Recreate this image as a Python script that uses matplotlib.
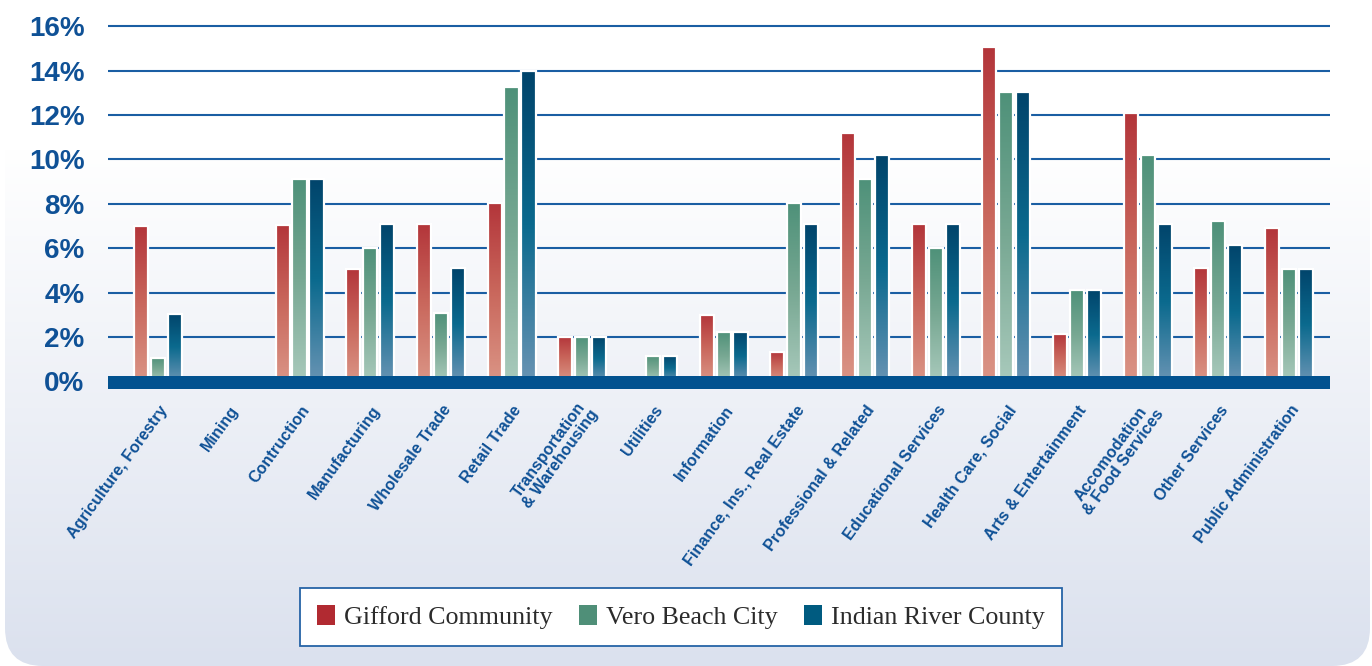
import numpy as np
import matplotlib
matplotlib.use("Agg")
import matplotlib.pyplot as plt
from matplotlib.colors import LinearSegmentedColormap, to_rgb
from matplotlib.patches import FancyBboxPatch, Patch
from matplotlib.transforms import ScaledTranslation

# data (percent of employment by industry)
categories = [
    "Agriculture, Forestry", "Mining", "Contruction", "Manufacturing",
    "Wholesale Trade", "Retail Trade", "Transportation\n& Warehousing",
    "Utilities", "Information", "Finance, Ins., Real Estate",
    "Professional & Related", "Educational Services", "Health Care, Social",
    "Arts & Entertainment", "Accomodation\n& Food Services", "Other Services",
    "Public Administration",
]
gifford = [7.0, 0, 7.05, 5.05, 7.1, 8.05, 2.0, 0, 3.0, 1.35, 11.2, 7.1, 15.05, 2.15, 12.1, 5.1, 6.9]
vero = [1.05, 0, 9.1, 6.0, 3.1, 13.25, 2.0, 1.15, 2.25, 8.05, 9.1, 6.0, 13.05, 4.1, 10.2, 7.25, 5.05]
county = [3.05, 0, 9.1, 7.1, 5.1, 14.0, 2.0, 1.15, 2.25, 7.1, 10.2, 7.1, 13.05, 4.1, 7.1, 6.15, 5.05]
series_names = ["Gifford Community", "Vero Beach City", "Indian River County"]
yticks = [0, 2, 4, 6, 8, 10, 12, 14, 16]

W, H = 1372, 666
fig = plt.figure(figsize=(W / 100, H / 100), dpi=100)

# background panel with soft vertical gradient and rounded bottom corners
bg = fig.add_axes([0, 0, 1, 1], zorder=-10)
bg.set_xlim(0, W)
bg.set_ylim(0, H)
bg.axis("off")
top_c = np.array(to_rgb("#ffffff"))
bot_c = np.array(to_rgb("#dbe1ee"))
ys = np.arange(H)[:, None]  # row 0 = bottom
frac = np.clip((H - ys - 150) / (H - 150), 0, 1)
grad = top_c[None, None, :] * (1 - frac[..., None]) + bot_c[None, None, :] * frac[..., None]
grad = np.repeat(grad, 2, axis=1)
panel = FancyBboxPatch((5, 0), W - 7, H + 60, boxstyle="round,pad=0,rounding_size=38",
                       transform=bg.transData, facecolor="none", edgecolor="none")
bg.add_patch(panel)
im = bg.imshow(grad, extent=(0, W, 0, H), origin="lower", aspect="auto")
im.set_clip_path(panel)

# main axes
ax = fig.add_axes([108 / W, (H - 389) / H, 1222 / W, (389 - 20) / H])
ax.patch.set_alpha(0)
for s in ax.spines.values():
    s.set_visible(False)

cmaps = [
    LinearSegmentedColormap.from_list("r", ["#da9485", "#c9675c", "#b3353a"]),
    LinearSegmentedColormap.from_list("g", ["#a8c9bb", "#78a893", "#4e9179"]),
    LinearSegmentedColormap.from_list("b", ["#6793b3", "#0b6a8e", "#01446b"]),
]
x = np.arange(len(categories))
offsets = [-0.24, 0, 0.24]
bar_w = 0.2
ramp = np.linspace(0, 1, 200).reshape(-1, 1)

for vals, off, cm in zip([gifford, vero, county], offsets, cmaps):
    bars = ax.bar(x + off, vals, width=bar_w, color="none", edgecolor="#ffffff",
                  linewidth=1.6, zorder=3)
    for b, v in zip(bars, vals):
        if v <= 0:
            b.set_visible(False)
            continue
        ax.imshow(ramp, extent=(b.get_x(), b.get_x() + bar_w, 0, v), origin="lower",
                  cmap=cm, aspect="auto", zorder=2.5)

# thick baseline band
ax.axhspan(-0.34, 0.25, color="#02528f", zorder=4, lw=0)

ax.set_xlim(-0.71, 16.58)
ax.set_ylim(-0.338, 16.28)
ax.set_yticks(yticks)
ax.set_yticklabels([f"{t}%" for t in yticks])
ax.grid(axis="y", color="#1a5ea3", linewidth=1.5, zorder=1)
ax.set_axisbelow(True)
ax.tick_params(axis="y", length=0, pad=17, labelsize=20, labelcolor="#0f5196")
for lab in ax.get_yticklabels():
    lab.set_fontweight("bold")
    lab.set_fontfamily("Liberation Sans")

ax.set_xticks(x)
ax.set_xticklabels(categories, rotation=54, ha="right", va="center",
                   rotation_mode="anchor", multialignment="center")
ax.tick_params(axis="x", length=0, pad=13, labelsize=11.6, labelcolor="#0f5196")
shift = ScaledTranslation(7 / 100, 0, fig.dpi_scale_trans)
for lab in ax.get_xticklabels():
    lab.set_fontweight("bold")
    lab.set_fontfamily("Liberation Sans")
    lab.set_linespacing(1.0)
    lab.set_transform(lab.get_transform() + shift)

# legend
handles = [Patch(facecolor=c, edgecolor="none") for c in ["#b12a31", "#4f8f78", "#005b80"]]
leg = fig.legend(handles, series_names, loc="center", ncol=3,
                 bbox_to_anchor=(681 / W, 1 - 617 / H), bbox_transform=fig.transFigure,
                 prop={"family": "Liberation Serif", "size": 18.7},
                 handlelength=0.7, handleheight=0.8, handletextpad=0.35,
                 columnspacing=1.0, borderpad=0.65, borderaxespad=0,
                 fancybox=False, framealpha=1)
leg.get_frame().set_edgecolor("#2563a6")
leg.get_frame().set_linewidth(1.3)
for t in leg.get_texts():
    t.set_color("#2b2b2b")

fig.savefig("out.png", dpi=100)
